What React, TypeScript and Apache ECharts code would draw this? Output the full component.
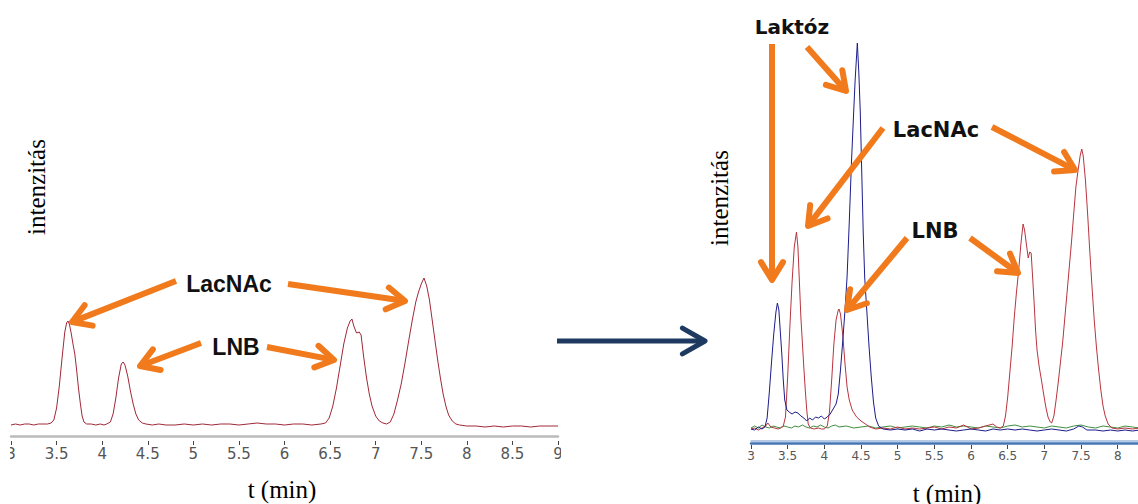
import React, { useEffect, useRef } from 'react';
import * as echarts from 'echarts';

// ---------- data (time in min, intensity in arbitrary units) ----------
const leftRed: number[][] = [
  [3.00, 11], [3.05, 12], [3.10, 11], [3.15, 12], [3.20, 12], [3.25, 11], [3.30, 12], [3.35, 12], [3.40, 12],
  [3.44, 13], [3.47, 16], [3.50, 28], [3.53, 50], [3.56, 78], [3.59, 104], [3.61, 113], [3.625, 115], [3.64, 112],
  [3.66, 103], [3.68, 92], [3.70, 82], [3.72, 66], [3.74, 48], [3.76, 33], [3.78, 20], [3.80, 14], [3.83, 12],
  [3.88, 12], [3.93, 11], [3.98, 12], [4.02, 11], [4.05, 12], [4.09, 14], [4.12, 22], [4.15, 38], [4.18, 58],
  [4.21, 72], [4.23, 74], [4.25, 71], [4.28, 60], [4.31, 45], [4.34, 32], [4.37, 22], [4.40, 16], [4.44, 13],
  [4.48, 12], [4.55, 11], [4.62, 12], [4.70, 11], [4.80, 11], [4.90, 12], [5.00, 11], [5.10, 12], [5.20, 11],
  [5.30, 12], [5.40, 12], [5.50, 11], [5.60, 12], [5.70, 13], [5.80, 12], [5.90, 12], [6.00, 11], [6.10, 12],
  [6.20, 12], [6.30, 11], [6.40, 12], [6.45, 13], [6.49, 18], [6.53, 30], [6.57, 48], [6.61, 70], [6.65, 92],
  [6.69, 108], [6.72, 115], [6.74, 117], [6.76, 110], [6.79, 103], [6.82, 104], [6.84, 101], [6.87, 78],
  [6.90, 58], [6.93, 42], [6.96, 30], [7.00, 20], [7.04, 15], [7.08, 13], [7.12, 12], [7.16, 14], [7.20, 22],
  [7.24, 36], [7.28, 52], [7.32, 72], [7.36, 94], [7.40, 115], [7.44, 134], [7.47, 144], [7.50, 152], [7.53, 158],
  [7.56, 150], [7.59, 136], [7.62, 116], [7.65, 96], [7.68, 76], [7.71, 58], [7.74, 42], [7.77, 30], [7.80, 21],
  [7.84, 15], [7.88, 12], [7.92, 11], [8.00, 10], [8.10, 10], [8.20, 9], [8.30, 10], [8.40, 9], [8.50, 10],
  [8.60, 10], [8.70, 9], [8.80, 10], [8.90, 10], [9.00, 10],
];

const rightRed: number[][] = [
  [3.00, 13], [3.05, 14], [3.10, 12], [3.15, 14], [3.20, 16], [3.23, 19], [3.27, 15], [3.32, 14], [3.37, 13],
  [3.40, 14], [3.44, 16], [3.47, 25], [3.50, 65], [3.53, 115], [3.56, 160], [3.59, 195], [3.62, 210], [3.64, 195],
  [3.66, 160], [3.68, 125], [3.70, 100], [3.72, 75], [3.74, 52], [3.76, 32], [3.78, 18], [3.81, 14], [3.86, 13],
  [3.92, 14], [3.96, 13], [4.00, 13], [4.04, 16], [4.07, 30], [4.10, 62], [4.13, 98], [4.16, 122], [4.19, 132],
  [4.20, 133], [4.22, 128], [4.25, 108], [4.28, 80], [4.31, 55], [4.34, 42], [4.38, 32], [4.44, 25], [4.50, 21],
  [4.56, 18], [4.62, 15], [4.70, 13], [4.80, 14], [4.90, 13], [5.00, 15], [5.10, 13], [5.20, 14], [5.30, 13],
  [5.40, 14], [5.50, 15], [5.60, 13], [5.70, 15], [5.80, 14], [5.90, 17], [5.95, 15], [6.00, 13], [6.10, 14],
  [6.20, 16], [6.30, 18], [6.35, 15], [6.40, 14], [6.44, 16], [6.47, 26], [6.50, 45], [6.53, 70], [6.56, 95],
  [6.59, 125], [6.62, 150], [6.65, 172], [6.68, 198], [6.71, 218], [6.73, 212], [6.76, 195], [6.78, 184],
  [6.80, 190], [6.82, 189], [6.84, 165], [6.86, 140], [6.88, 112], [6.90, 92], [6.93, 75], [6.96, 62],
  [6.99, 48], [7.02, 35], [7.05, 25], [7.08, 20], [7.10, 19], [7.13, 26], [7.16, 42], [7.19, 60], [7.22, 80],
  [7.25, 100], [7.28, 125], [7.31, 150], [7.34, 175], [7.37, 200], [7.40, 228], [7.43, 255], [7.46, 272],
  [7.49, 287], [7.51, 293], [7.53, 286], [7.56, 262], [7.59, 228], [7.62, 190], [7.65, 155], [7.68, 122],
  [7.71, 95], [7.74, 72], [7.77, 52], [7.80, 36], [7.83, 26], [7.87, 18], [7.92, 14], [8.00, 13], [8.10, 14],
  [8.20, 13], [8.30, 14],
];

const rightBlue: number[][] = [
  [3.00, 13], [3.05, 12], [3.10, 15], [3.15, 13], [3.19, 15], [3.22, 24], [3.25, 50], [3.28, 80], [3.31, 108],
  [3.34, 130], [3.36, 139], [3.38, 132], [3.40, 110], [3.42, 88], [3.44, 62], [3.46, 42], [3.49, 32], [3.52, 30],
  [3.56, 28], [3.60, 30], [3.64, 29], [3.68, 26], [3.72, 24], [3.76, 21], [3.80, 24], [3.84, 22], [3.88, 25],
  [3.92, 24], [3.96, 26], [4.00, 23], [4.04, 25], [4.08, 28], [4.12, 33], [4.16, 38], [4.19, 48], [4.22, 72],
  [4.25, 100], [4.28, 130], [4.31, 165], [4.34, 220], [4.37, 280], [4.40, 330], [4.42, 362], [4.45, 399],
  [4.47, 370], [4.49, 330], [4.51, 270], [4.53, 210], [4.55, 165], [4.58, 130], [4.61, 95], [4.64, 65],
  [4.67, 40], [4.70, 24], [4.74, 16], [4.80, 13], [4.90, 12], [5.00, 13], [5.10, 12], [5.20, 13], [5.30, 11],
  [5.40, 13], [5.50, 12], [5.60, 13], [5.70, 12], [5.80, 11], [5.90, 12], [6.00, 13], [6.10, 12], [6.20, 11],
  [6.30, 13], [6.40, 12], [6.50, 13], [6.60, 12], [6.70, 13], [6.80, 12], [6.90, 11], [7.00, 12], [7.10, 13],
  [7.20, 12], [7.30, 11], [7.40, 13], [7.47, 16], [7.52, 15], [7.58, 12], [7.70, 12], [7.80, 11], [7.90, 12],
  [8.00, 11], [8.10, 12], [8.20, 11], [8.30, 12],
];

const rightGreen: number[][] = [
  [3.00, 14], [3.05, 16], [3.10, 14], [3.15, 17], [3.20, 15], [3.25, 14], [3.30, 16], [3.35, 15], [3.40, 14],
  [3.45, 16], [3.50, 15], [3.55, 14], [3.60, 16], [3.65, 15], [3.70, 17], [3.75, 15], [3.80, 14], [3.85, 16],
  [3.90, 15], [3.95, 17], [4.00, 15], [4.05, 14], [4.10, 16], [4.15, 17], [4.20, 15], [4.30, 16], [4.40, 14],
  [4.50, 15], [4.60, 16], [4.70, 14], [4.80, 15], [4.90, 16], [5.00, 14], [5.10, 15], [5.20, 16], [5.30, 15],
  [5.40, 14], [5.50, 16], [5.60, 15], [5.70, 17], [5.80, 15], [5.90, 16], [6.00, 15], [6.10, 14], [6.20, 16],
  [6.30, 15], [6.40, 14], [6.50, 16], [6.60, 17], [6.70, 15], [6.80, 16], [6.90, 15], [7.00, 14], [7.10, 16],
  [7.20, 15], [7.30, 14], [7.40, 16], [7.50, 17], [7.60, 15], [7.70, 14], [7.80, 16], [7.90, 15], [8.00, 14],
  [8.10, 16], [8.20, 15], [8.30, 14],
];

const xTitle = 't (min)';
const yTitle = 'intenzitás';
const labelLacNAc = 'LacNAc';
const labelLNB = 'LNB';
const labelLaktoz = 'Laktóz';

// ---------- helpers for decorations ----------
const ORANGE = '#F07A1C';
const NAVY = '#1F3A60';

function arrow(x1: number, y1: number, x2: number, y2: number, color: string, w: number, head: number, spread: number) {
  const ang = Math.atan2(y1 - y2, x1 - x2);
  const a1 = ang + spread;
  const a2 = ang - spread;
  const back = w * 0.5;
  const sx = x2 + back * Math.cos(ang);
  const sy = y2 + back * Math.sin(ang);
  return [
    {
      type: 'line', z: 100,
      shape: { x1, y1, x2: sx, y2: sy },
      style: { stroke: color, lineWidth: w, lineCap: 'butt' },
    },
    {
      type: 'polyline', z: 100,
      shape: {
        points: [
          [x2 + head * Math.cos(a1), y2 + head * Math.sin(a1)],
          [x2, y2],
          [x2 + head * Math.cos(a2), y2 + head * Math.sin(a2)],
        ],
      },
      style: { stroke: color, lineWidth: w, lineJoin: 'round', lineCap: 'round', fill: 'none' },
    },
  ];
}

function label(text: string, x: number, y: number, font: string, rotation = 0, color = '#111') {
  return {
    type: 'text', z: 101, x, y, rotation,
    style: {
      text, font, fill: color,
      align: 'center', verticalAlign: 'middle',
      textAlign: 'center', textVerticalAlign: 'middle',
    },
  };
}

export default function App() {
  const ref = useRef<HTMLDivElement>(null);

  useEffect(() => {
    if (!ref.current) return;
    const chart = echarts.init(ref.current, undefined, { renderer: 'svg' });

    const orange = (a: number, b: number, c: number, d: number) => arrow(a, b, c, d, ORANGE, 6, 21, 0.55);

    const graphics: any[] = [
      // crop covers (reference image is cut between the panels)
      { type: 'rect', z: 99, shape: { x: 0, y: 446, width: 10, height: 24 }, style: { fill: '#fff' } },
      { type: 'rect', z: 99, shape: { x: 561, y: 440, width: 184, height: 30 }, style: { fill: '#fff' } },
      // axis titles
      label(xTitle, 282, 489, '25px "Liberation Serif"', 0, '#000'),
      label(xTitle, 947, 493, '25px "Liberation Serif"', 0, '#000'),
      label(yTitle, 36, 187, '25px "Liberation Serif"', Math.PI / 2, '#000'),
      label(yTitle, 719, 198, '25px "Liberation Serif"', Math.PI / 2, '#000'),
      // left annotations
      label(labelLacNAc, 229, 284, 'bold 23px "Liberation Sans"'),
      label(labelLNB, 236, 347, 'bold 23px "Liberation Sans"'),
      ...orange(176, 281, 72, 322),
      ...orange(288, 284, 405, 301),
      ...orange(201, 343, 140, 366),
      ...orange(267, 347, 334, 360),
      // right annotations
      label(labelLaktoz, 792, 27, 'bold 20px "DejaVu Sans"'),
      label(labelLacNAc, 936, 130, 'bold 21px "DejaVu Sans"'),
      label(labelLNB, 935, 231, 'bold 21px "DejaVu Sans"'),
      ...orange(772, 44, 772, 280),
      ...orange(807, 47, 846, 91),
      ...orange(883, 128, 808, 226),
      ...orange(992, 127, 1075, 170),
      ...orange(907, 238, 847, 310),
      ...orange(970, 238, 1018, 273),
      // big arrow between the panels
      ...arrow(557, 341, 705, 341, NAVY, 5, 26, 0.52),
    ];

    const baseX = {
      type: 'value', min: 3, interval: 0.5, position: 'bottom',
      splitLine: { show: false },
    };
    const lineOnly = { axisTick: { show: false }, axisLabel: { show: false } };

    chart.setOption({
      animation: false,
      backgroundColor: '#fff',
      grid: [
        { left: 11, top: 236, width: 547, height: 200, outerBoundsMode: 'none', containLabel: false },
        { left: 751, top: 42, width: 388.7, height: 400, outerBoundsMode: 'none', containLabel: false },
      ],
      xAxis: [
        {
          ...baseX, ...lineOnly, gridIndex: 0, max: 9, offset: 0,
          axisLine: { show: true, onZero: false, lineStyle: { color: '#bbbbbb', width: 2.5 } },
        },
        {
          ...baseX, gridIndex: 0, max: 9, offset: 5,
          axisLine: { show: false, onZero: false },
          axisTick: { show: true, length: 4, lineStyle: { color: '#444', width: 1 } },
          axisLabel: { show: true, fontSize: 15, fontFamily: 'DejaVu Sans', color: '#555', margin: 5, showMinLabel: true, showMaxLabel: true },
        },
        {
          ...baseX, ...lineOnly, gridIndex: 1, max: 8.3, offset: 1,
          axisLine: { show: true, onZero: false, lineStyle: { color: '#4574b4', width: 2.5 } },
        },
        {
          ...baseX, ...lineOnly, gridIndex: 1, max: 8.3, offset: -1,
          axisLine: { show: true, onZero: false, lineStyle: { color: '#9db8dc', width: 1.5 } },
        },
        {
          ...baseX, gridIndex: 1, max: 8.3, offset: 3,
          axisLine: { show: false, onZero: false },
          axisTick: { show: true, length: 4, lineStyle: { color: '#444', width: 1 } },
          axisLabel: { show: true, fontSize: 12, fontFamily: 'DejaVu Sans', color: '#555', margin: 5, showMinLabel: true, showMaxLabel: false },
        },
      ],
      yAxis: [
        { type: 'value', gridIndex: 0, min: 0, max: 200, show: false },
        { type: 'value', gridIndex: 1, min: 0, max: 400, show: false },
      ],
      series: [
        {
          type: 'line', xAxisIndex: 0, yAxisIndex: 0, data: leftRed, showSymbol: false, silent: true,
          lineStyle: { color: '#a02838', width: 1 },
        },
        {
          type: 'line', xAxisIndex: 2, yAxisIndex: 1, data: rightGreen, showSymbol: false, silent: true,
          lineStyle: { color: '#3f8f3f', width: 1 },
        },
        {
          type: 'line', xAxisIndex: 2, yAxisIndex: 1, data: rightRed, showSymbol: false, silent: true,
          lineStyle: { color: '#b8343e', width: 1 },
        },
        {
          type: 'line', xAxisIndex: 2, yAxisIndex: 1, data: rightBlue, showSymbol: false, silent: true,
          lineStyle: { color: '#1c1c8a', width: 1 },
        },
      ],
      graphic: { elements: graphics },
    });

    return () => chart.dispose();
  }, []);

  return (
    <div
      ref={ref}
      style={{ position: 'fixed', left: 0, top: 0, width: 1138, height: 504, background: '#fff' }}
    />
  );
}
